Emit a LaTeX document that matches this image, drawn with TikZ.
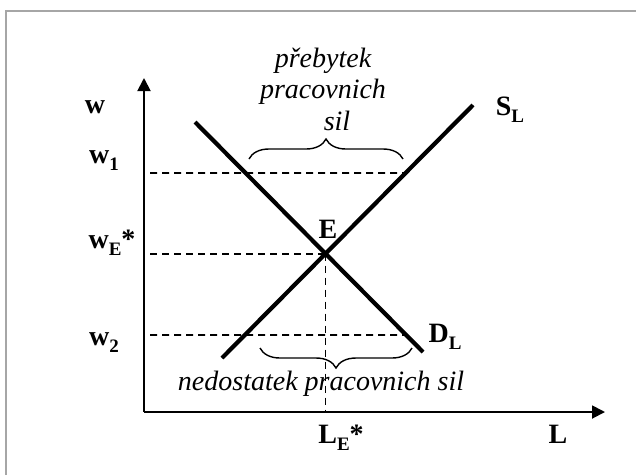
\documentclass[tikz,border=0pt]{standalone}
\usepackage{fontspec}
\setmainfont{Liberation Serif}
\usetikzlibrary{arrows.meta, decorations.pathreplacing, calc}
\newcommand{\lowsub}[1]{\raisebox{-0.25em}{\fontsize{19}{19}\selectfont #1}}
\tikzset{
    axis/.style={line width=1.9pt, -{Triangle[length=13pt, width=13pt]}},
    curve/.style={line width=4.2pt},
    guide/.style={line width=1.7pt, dash pattern=on 7pt off 5pt},
    bracket/.style={line width=1.4pt, decorate, decoration={brace, amplitude=20pt}},
    lbl/.style={font=\fontsize{28}{30}\selectfont\bfseries, inner sep=0pt, anchor=base},
    note/.style={font=\fontsize{28}{31.5}\selectfont\itshape, inner sep=0pt, align=center},
    frame/.style={draw=black!35, line width=2pt}
}
\begin{document}
\begin{tikzpicture}[x=1pt, y=-1pt]
  \useasboundingbox (0,0) rectangle (636,475);
  \draw[frame] (6,475) |- (636,11);
  % axes
  \coordinate (O) at (144,412);
  \coordinate (yTop) at (144,78);
  \coordinate (xEnd) at (605,412);
  \draw[axis] (O) -- (yTop);
  \draw[axis] (O) -- (xEnd);
  % supply and demand
  \coordinate (sLo) at (222,358);
  \coordinate (sHi) at (473,105);
  \coordinate (dHi) at (195,122);
  \coordinate (dLo) at (423,352);
  \draw[curve] (sLo) -- (sHi);
  \draw[curve] (dHi) -- (dLo);
  \coordinate (E) at (intersection of sLo--sHi and dHi--dLo);
  % wage levels
  \coordinate (w1a) at (150,173);
  \coordinate (w1b) at (500,173);
  \coordinate (w2a) at (150,335);
  \coordinate (w2b) at (500,335);
  \coordinate (wEa) at ($(O |- E)+(6,0)$);
  \coordinate (w1s) at (intersection of sLo--sHi and w1a--w1b);
  \coordinate (w2d) at (intersection of dHi--dLo and w2a--w2b);
  \draw[guide] (w1a) -- (w1s);
  \draw[guide] (wEa) -- (E);
  \draw[guide] (w2a) -- (w2d);
  \draw[guide] (E) -- (E |- O);
  % braces
  \coordinate (bUpL) at (249,159);
  \coordinate (bUpR) at (403,159);
  \coordinate (bLoL) at (260,348);
  \coordinate (bLoR) at (412,348);
  \draw[bracket] (bUpL) -- (bUpR);
  \draw[bracket] (bLoR) -- (bLoL);
  % labels
  \node[lbl] (wLbl) at (95,113) {w};
  \node[lbl] (w1Lbl) at (104,163) {w\lowsub{1}};
  \node[lbl] (wELbl) at (112,248) {w\lowsub{E}*};
  \node[lbl] (w2Lbl) at (104,345) {w\lowsub{2}};
  \node[lbl] (ELbl) at (328,238) {E};
  \node[lbl] (SLbl) at (510,115) {S\lowsub{L}};
  \node[lbl] (DLbl) at (445,342) {D\lowsub{L}};
  \node[lbl] (LELbl) at (341,443) {L\lowsub{E}*};
  \node[lbl] (LLbl) at (558,443) {L};
  \node[note] (surplus) at (323,89) {přebytek\\pracovnich\\\hspace*{1em}sil};
  \node[note, anchor=base] (shortage) at (321,390) {nedostatek pracovnich sil};
\end{tikzpicture}
\end{document}
